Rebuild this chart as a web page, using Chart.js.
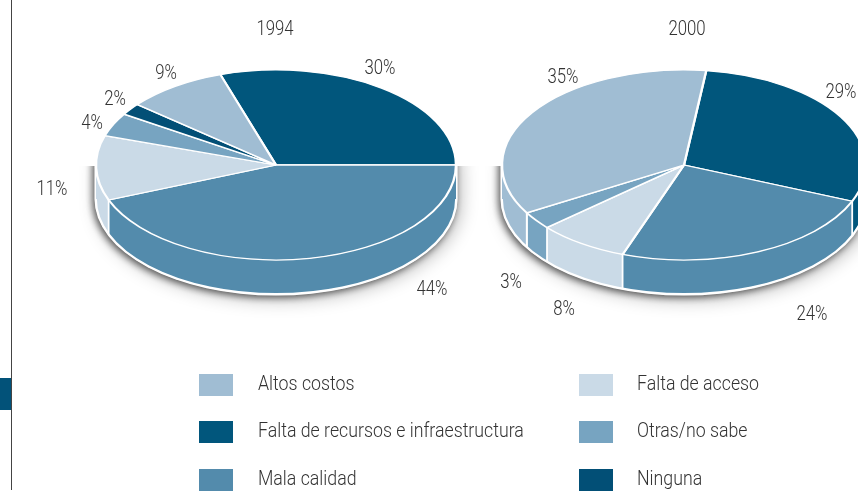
<!DOCTYPE html>
<html lang="es">
<head>
<meta charset="utf-8">
<title>Pie charts 1994 / 2000</title>
<script src="https://cdn.jsdelivr.net/npm/chart.js@4"></script>
<style>
  html,body{margin:0;padding:0;background:#fff;width:858px;height:492px;overflow:hidden;position:relative;}
  body{font-family:Roboto,"Liberation Sans",sans-serif;font-weight:300;color:#333;}
  canvas{position:absolute;top:0;}
  #rule{position:absolute;left:11px;top:0;width:1px;height:490px;background:#444;}
  #tab{position:absolute;left:0;top:378px;width:11px;height:32px;background:#025279;}
  .sw{position:absolute;width:34px;height:22px;}
  .lb{position:absolute;font-size:19.5px;line-height:24px;white-space:nowrap;transform:scaleX(0.91);transform-origin:0 50%;}
</style>
</head>
<body>
<div id="rule"></div><div id="tab"></div>
<canvas id="c1" width="552" height="492" style="left:0"></canvas>
<canvas id="c2" width="428" height="492" style="left:470px"></canvas>
<div id="legend"></div>
<script>
const categories = ["Falta de recursos e infraestructura","Mala calidad","Falta de acceso","Otras/no sabe","Ninguna","Altos costos"];
const values1994 = [30,44,11,4,2,9];
const values2000 = [29,24,8,3,0,35];
const sliceColors = ["#01567c","#538bac","#cadae7","#77a4c1","#024f76","#a0bdd3"];
const legendOrder = ["Altos costos","Falta de acceso","Falta de recursos e infraestructura","Otras/no sabe","Mala calidad","Ninguna"];

const labelSpots1994 = [[380,69],[432,290],[52,190],[92,124],[115,100],[166,74]];
const labelSpots2000 = [[841,93],[812,315],[564,310],[511,283],null,[563,78]];

const RY = 95, DEPTH = 34, TEXT_X = 0.86;
const TAU = Math.PI*2;

function drawText(ctx,text,x,y){
  ctx.save();
  ctx.translate(x,y);
  ctx.scale(TEXT_X,1);
  ctx.fillText(text,0,0);
  ctx.restore();
}

function wallBody(ctx,cx,cy,r,color,blur,ox,oy){
  ctx.save();
  ctx.shadowColor=color;
  ctx.shadowBlur=blur; ctx.shadowOffsetY=oy; ctx.shadowOffsetX=ox;
  ctx.fillStyle='#fff';
  ctx.beginPath();
  ctx.ellipse(cx,cy+DEPTH,r+1.5,RY+1.5,0,0,Math.PI);
  ctx.ellipse(cx,cy,r+1.5,RY+1.5,0,Math.PI,TAU);
  ctx.closePath(); ctx.fill();
  ctx.restore();
}

const pie3d = {
  id:'pie3d',
  beforeDatasetsDraw(chart){
    const ctx = chart.ctx, arcs = chart.getDatasetMeta(0).data;
    const cx = arcs[0].x, cy = arcs[0].y, r = arcs[0].outerRadius;
    // shadows, only below the pie's middle
    ctx.save();
    ctx.beginPath(); ctx.rect(0,cy+1,chart.width,chart.height-cy-1); ctx.clip();
    wallBody(ctx,cx,cy,r,'rgba(0,0,0,0.28)',18,3,4);
    wallBody(ctx,cx,cy,r,'rgba(0,0,0,0.6)',7,-2,2);
    ctx.restore();
    // wall pieces follow the library's arc angles
    arcs.forEach(el=>{
      for(let k=-1;k<=1;k++){
        const a0=Math.max(el.startAngle+k*TAU,0), a1=Math.min(el.endAngle+k*TAU,Math.PI);
        if(a1>a0){
          ctx.fillStyle=el.options.backgroundColor;
          ctx.beginPath();
          ctx.ellipse(cx,cy,r,RY,0,a0,a1);
          ctx.ellipse(cx,cy+DEPTH,r,RY,0,a1,a0,true);
          ctx.closePath(); ctx.fill();
        }
      }
    });
    // white base rim and seams
    ctx.save();
    ctx.strokeStyle='#fff'; ctx.lineWidth=1.8;
    ctx.beginPath(); ctx.ellipse(cx,cy+DEPTH,r,RY,0,0,Math.PI); ctx.stroke();
    arcs.forEach(el=>{
      const s=Math.sin(el.startAngle);
      if(s>0){
        const x=cx+r*Math.cos(el.startAngle), y=cy+RY*s;
        ctx.beginPath(); ctx.moveTo(x,y); ctx.lineTo(x,y+DEPTH); ctx.stroke();
      }
    });
    ctx.restore();
    // flatten the top face
    ctx.save();
    ctx.translate(cx,cy); ctx.scale(1,RY/r); ctx.translate(-cx,-cy);
  },
  afterDatasetsDraw(chart){ chart.ctx.restore(); },
  afterDraw(chart,args,opts){
    const ctx=chart.ctx, vals=chart.data.datasets[0].data;
    ctx.save();
    ctx.fillStyle='#333';
    ctx.font='300 19.5px Roboto,"Liberation Sans",sans-serif';
    ctx.textAlign='center'; ctx.textBaseline='middle';
    drawText(ctx,opts.year,opts.yearX-opts.left,30);
    vals.forEach((v,i)=>{
      const p=opts.spots[i];
      if(p) drawText(ctx,v+'%',p[0]-opts.left,p[1]);
    });
    ctx.restore();
  }
};

function makePie(id,year,yearX,values,rotation,radius,spots,left){
  new Chart(document.getElementById(id),{
    type:'pie',
    data:{labels:categories,datasets:[{data:values,backgroundColor:sliceColors,borderColor:'#fff',borderWidth:2.4,radius:radius,clip:false,rotation:rotation}]},
    options:{
      responsive:false,animation:false,events:[],
      layout:{padding:{bottom:162}},
      plugins:{
        legend:{display:false},tooltip:{enabled:false},title:{display:false},
        pie3d:{spots:spots,left:left,year:year,yearX:yearX}
      }
    },
    plugins:[pie3d]
  });
}
makePie('c1','1994',275,values1994,-18,180,labelSpots1994,0);
makePie('c2','2000',687,values2000,7,182,labelSpots2000,470);

const legendBox=document.getElementById('legend');
const rowTops=[374,421,469], colSw=[199,579], colTx=[258,637];
legendOrder.forEach((name,i)=>{
  const col=i%2,row=(i-col)/2;
  const s=document.createElement('div');s.className='sw';
  s.style.left=colSw[col]+'px';s.style.top=rowTops[row]+'px';
  s.style.background=sliceColors[categories.indexOf(name)];
  const t=document.createElement('div');t.className='lb';t.textContent=name;
  t.style.left=colTx[col]+'px';t.style.top=(rowTops[row]-2)+'px';
  legendBox.append(s,t);
});
</script>
</body>
</html>
